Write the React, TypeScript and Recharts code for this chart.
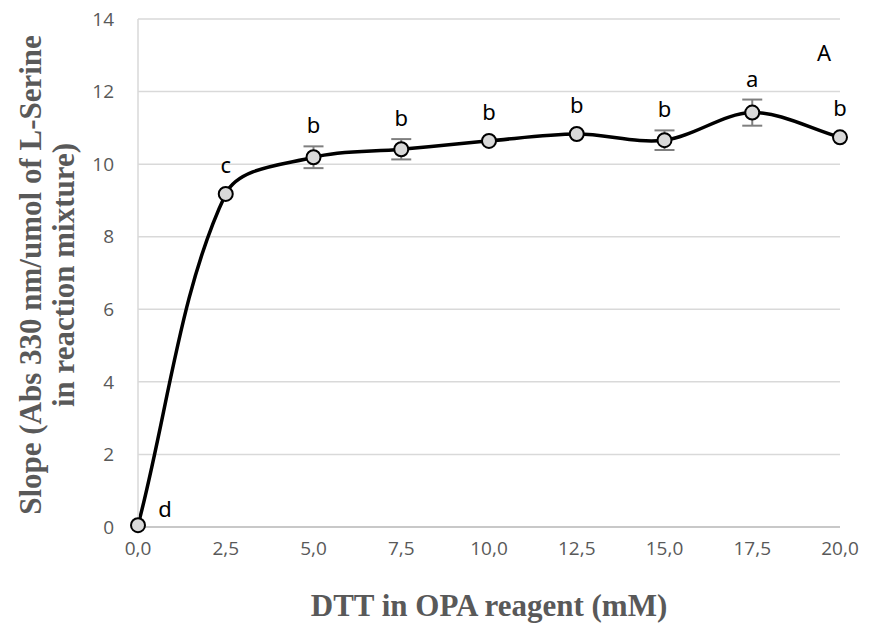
import {
	CartesianGrid,
	ErrorBar,
	LabelList,
	Line,
	LineChart,
	XAxis,
	YAxis,
} from "recharts";

const dtt = [0, 2.5, 5, 7.5, 10, 12.5, 15, 17.5, 20];
const slope = [0.05, 9.18, 10.19, 10.41, 10.64, 10.83, 10.66, 11.42, 10.74];
const sd = [0, 0, 0.3, 0.28, 0, 0, 0.27, 0.36, 0];
const letters = ["d", "c", "b", "b", "b", "b", "b", "a", "b"];
const xTicks = [0, 2.5, 5, 7.5, 10, 12.5, 15, 17.5, 20];
const yTicks = [0, 2, 4, 6, 8, 10, 12, 14];

const data = dtt.map((x, i) => ({
	x,
	y: slope[i],
	err: sd[i],
	letter: letters[i],
}));

const PX_PER_UNIT = 508 / 14;

// Excel-like smoothing: tangents weighted by neighbouring segment lengths
const excelSmooth = (context: any) => {
	let pts: [number, number][] = [];
	const dist = (a: [number, number], b: [number, number]) =>
		Math.hypot(b[0] - a[0], b[1] - a[1]);
	return {
		areaStart() {},
		areaEnd() {},
		lineStart() {
			pts = [];
		},
		point(x: number, y: number) {
			pts.push([+x, +y]);
		},
		lineEnd() {
			const n = pts.length;
			if (!n) return;
			context.moveTo(pts[0][0], pts[0][1]);
			const tan = pts.map((_, i) => {
				const a = pts[Math.max(0, i - 1)];
				const b = pts[Math.min(n - 1, i + 1)];
				return [b[0] - a[0], b[1] - a[1]];
			});
			const seg = pts.slice(1).map((p, i) => dist(pts[i], p));
			for (let i = 0; i < n - 1; i++) {
				const p1 = pts[i];
				const p2 = pts[i + 1];
				const dPrev = i > 0 ? seg[i - 1] : 0;
				const dCur = seg[i];
				const dNext = i + 1 < n - 1 ? seg[i + 1] : 0;
				const f1 = dCur / (dPrev + dCur) / 3;
				const f2 = dCur / (dCur + dNext) / 3;
				context.bezierCurveTo(
					p1[0] + tan[i][0] * f1,
					p1[1] + tan[i][1] * f1,
					p2[0] - tan[i + 1][0] * f2,
					p2[1] - tan[i + 1][1] * f2,
					p2[0],
					p2[1],
				);
			}
		},
	};
};

const LetterLabel = (props: any) => {
	const { x, y, index } = props;
	const letter = letters[index];
	const first = index === 0;
	const errPx = sd[index] * PX_PER_UNIT;
	const dy = first ? -17 : -Math.max(30, errPx + 22);
	const dx = first ? 27 : 0;
	return (
		<text
			x={x + dx}
			y={y + dy}
			textAnchor="middle"
			dominantBaseline="central"
			fontFamily="Noto Sans, sans-serif"
			fontSize={22}
			fill="#000"
		>
			{letter}
		</text>
	);
};

const YTitle = () => (
	<g fontFamily="Liberation Serif, serif" fontWeight="bold" fontSize={31} fill="#595959">
		<text x={30} y={275} textAnchor="middle" dominantBaseline="central" transform="rotate(-90, 30, 275)">
			Slope (Abs 330 nm/umol of L-Serine
		</text>
		<text x={63} y={275} textAnchor="middle" dominantBaseline="central" transform="rotate(-90, 63, 275)">
			in reaction mixture)
		</text>
	</g>
);

export default function App() {
	return (
		<div style={{ position: "absolute", left: 0, top: 0, width: 873, height: 624, background: "#fff" }}>
			<LineChart
				width={873}
				height={624}
				data={data}
				margin={{ top: 19, right: 33, bottom: 0, left: 0 }}
			>
				<CartesianGrid vertical={false} stroke="#d9d9d9" strokeWidth={1.5} />
				<XAxis
					type="number"
					dataKey="x"
					domain={[0, 20]}
					ticks={xTicks}
					tickFormatter={(v: number) => v.toFixed(1).replace(".", ",")}
					height={97}
					tickLine={false}
					tickMargin={9}
					axisLine={{ stroke: "#bfbfbf", strokeWidth: 1.5 }}
					tick={{ fill: "#595959", fontSize: 19, fontFamily: "Open Sans, sans-serif" }}
					label={{
						value: "DTT in OPA reagent (mM)",
						position: "insideBottom",
						offset: 8,
						fill: "#595959",
						fontSize: 31,
						fontWeight: "bold",
						fontFamily: "Liberation Serif, serif",
					}}
				/>
				<YAxis
					type="number"
					domain={[0, 14]}
					ticks={yTicks}
					width={138}
					tickLine={false}
					tickMargin={18}
					axisLine={{ stroke: "#d9d9d9", strokeWidth: 1.5 }}
					tick={{ fill: "#595959", fontSize: 19, fontFamily: "Open Sans, sans-serif" }}
					label={{ content: () => <YTitle /> }}
				/>
				<Line
					type={excelSmooth as any}
					dataKey="y"
					stroke="#000"
					strokeWidth={3.5}
					isAnimationActive={false}
					dot={{ r: 7, fill: "#d9d9d9", stroke: "#000", strokeWidth: 2 }}
				>
					<ErrorBar dataKey="err" direction="y" width={10} stroke="#7f7f7f" strokeWidth={2} />
					<LabelList dataKey="letter" content={<LetterLabel />} />
				</Line>
			</LineChart>
			<div
				style={{
					position: "absolute",
					left: 817,
					top: 37,
					fontFamily: "Noto Sans, sans-serif",
					fontSize: 22,
					color: "#000",
				}}
			>
				A
			</div>
		</div>
	);
}
